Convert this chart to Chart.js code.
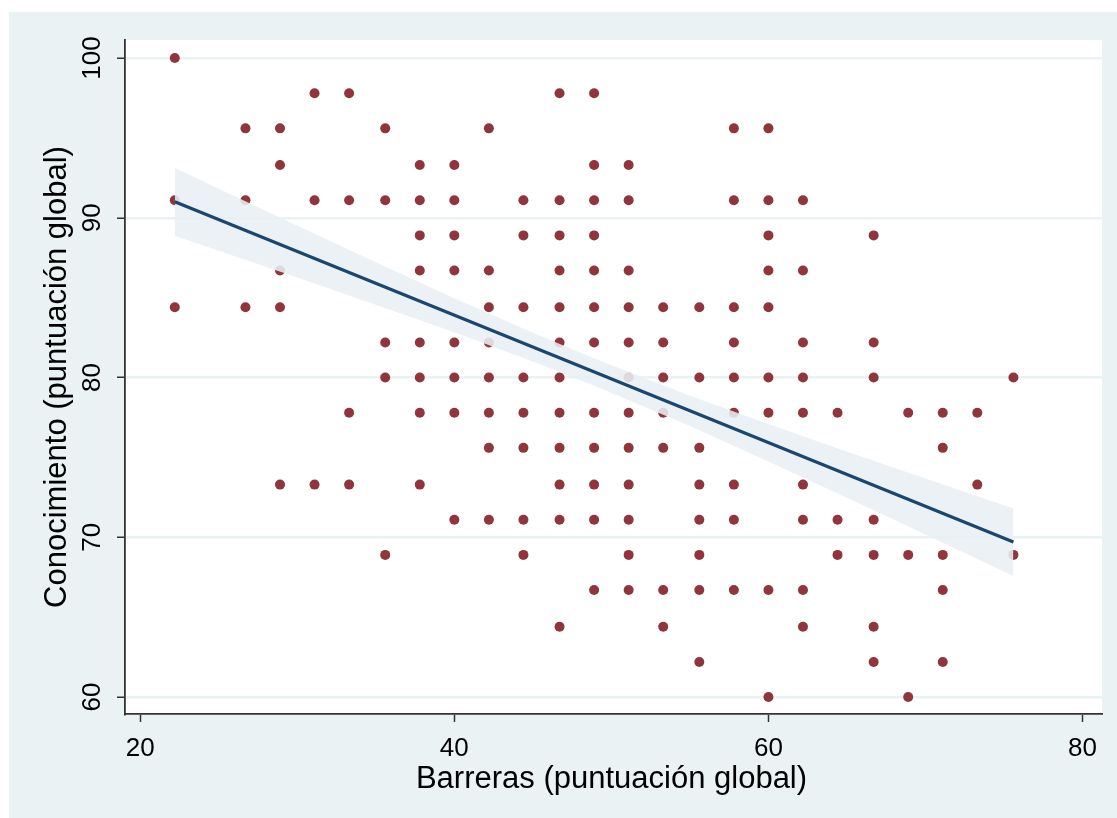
<!DOCTYPE html>
<html lang="es">
<head>
<meta charset="utf-8">
<title>Conocimiento vs Barreras</title>
<script src="https://cdn.jsdelivr.net/npm/chart.js@4.4.1/dist/chart.umd.min.js"></script>
<style>
  html, body { margin: 0; padding: 0; background: #ffffff; }
  #wrap { width: 1117px; height: 818px; }
</style>
</head>
<body>
<div id="wrap"><canvas id="chart" width="1117" height="818"></canvas></div>
<script>
// Barreras score levels (x) and the Conocimiento scores seen at each level
const barrerasLevels = [22.2, 26.7, 28.9, 31.1, 33.3, 35.6, 37.8, 40, 42.2, 44.4, 46.7, 48.9,
  51.1, 53.3, 55.6, 57.8, 60, 62.2, 64.4, 66.7, 68.9, 71.1, 73.3, 75.6];
const conocimientoByLevel = [
  [100, 91.1, 84.4],
  [95.6, 91.1, 84.4],
  [95.6, 93.3, 86.7, 84.4, 73.3],
  [97.8, 91.1, 73.3],
  [97.8, 91.1, 77.8, 73.3],
  [95.6, 91.1, 82.2, 80, 68.9],
  [93.3, 91.1, 88.9, 86.7, 82.2, 80, 77.8, 73.3],
  [93.3, 91.1, 88.9, 86.7, 82.2, 80, 77.8, 71.1],
  [95.6, 86.7, 84.4, 82.2, 80, 77.8, 75.6, 71.1],
  [91.1, 88.9, 84.4, 80, 77.8, 75.6, 71.1, 68.9],
  [97.8, 91.1, 88.9, 86.7, 84.4, 82.2, 80, 77.8, 75.6, 73.3, 71.1, 64.4],
  [97.8, 93.3, 91.1, 88.9, 86.7, 84.4, 82.2, 77.8, 75.6, 73.3, 71.1, 66.7],
  [93.3, 91.1, 86.7, 84.4, 82.2, 80, 77.8, 75.6, 73.3, 71.1, 68.9, 66.7],
  [84.4, 82.2, 80, 77.8, 75.6, 66.7, 64.4],
  [84.4, 80, 75.6, 73.3, 71.1, 68.9, 66.7, 62.2],
  [95.6, 91.1, 84.4, 82.2, 80, 77.8, 73.3, 71.1, 66.7],
  [95.6, 91.1, 88.9, 86.7, 84.4, 80, 77.8, 66.7, 60],
  [91.1, 86.7, 82.2, 80, 77.8, 73.3, 71.1, 66.7, 64.4],
  [77.8, 71.1, 68.9],
  [88.9, 82.2, 80, 71.1, 68.9, 64.4, 62.2],
  [77.8, 68.9, 60],
  [77.8, 75.6, 68.9, 66.7, 62.2],
  [77.8, 73.3],
  [80, 68.9]
];

// fitted line and its 95% confidence band
const fitX = [22.2, 75.6];
const fitY = [91.0, 69.7];
const bandX = [22.2, 25, 30, 35, 40, 45, 49, 55, 60, 65, 70, 75.6];
const bandUpper = [93.13, 91.82, 89.51, 87.22, 84.97, 82.80, 81.16, 78.86, 77.09, 75.36, 73.68, 71.80];
const bandLower = [88.87, 87.94, 86.27, 84.56, 82.83, 81.00, 79.46, 76.96, 74.75, 72.48, 70.18, 67.58];

const xTicks = [20, 40, 60, 80];
const yTicks = [60, 70, 80, 90, 100];

const points = [];
barrerasLevels.forEach((x, i) => {
  conocimientoByLevel[i].forEach(y => points.push({ x, y }));
});
const fitPoints = fitX.map((x, i) => ({ x, y: fitY[i] }));
const upperPoints = bandX.map((x, i) => ({ x, y: bandUpper[i] }));
const lowerPoints = bandX.map((x, i) => ({ x, y: bandLower[i] }));

const FONT = '"Liberation Sans", Arial, Helvetica, sans-serif';

const stataFrame = {
  id: "stataFrame",
  beforeDraw(chart) {
    const { ctx, chartArea: a } = chart;
    ctx.save();
    ctx.fillStyle = "#ffffff";
    ctx.fillRect(0, 0, chart.width, chart.height);
    ctx.fillStyle = "#eaf2f3";
    ctx.fillRect(9, 12, chart.width - 9, chart.height - 12);
    ctx.fillStyle = "#ffffff";
    ctx.fillRect(a.left, a.top, a.right - a.left, a.bottom - a.top);
    ctx.restore();
  },
  afterDraw(chart) {
    const { ctx, chartArea: a } = chart;
    const xs = chart.scales.x, ys = chart.scales.y;
    ctx.save();
    ctx.fillStyle = "#000000";
    // x tick labels
    ctx.font = "26px " + FONT;
    ctx.textAlign = "center";
    ctx.textBaseline = "alphabetic";
    xTicks.forEach(v => ctx.fillText(String(v), xs.getPixelForValue(v), 756));
    // y tick labels, turned to read upwards
    yTicks.forEach(v => {
      ctx.save();
      ctx.translate(100, ys.getPixelForValue(v));
      ctx.rotate(-Math.PI / 2);
      ctx.fillText(String(v), 0, 0);
      ctx.restore();
    });
    // axis titles
    ctx.font = "31px " + FONT;
    ctx.fillText("Barreras (puntuación global)", (a.left + a.right) / 2 - 2, 788);
    ctx.save();
    ctx.translate(66, (a.top + a.bottom) / 2);
    ctx.rotate(-Math.PI / 2);
    ctx.fillText("Conocimiento (puntuación global)", 0, 0);
    ctx.restore();
    ctx.restore();
  }
};

new Chart(document.getElementById("chart"), {
  type: "scatter",
  data: {
    datasets: [
      {
        type: "line",
        data: fitPoints,
        borderColor: "#1a476f",
        borderWidth: 3.2,
        pointRadius: 0,
        fill: false
      },
      {
        type: "line",
        data: upperPoints,
        borderWidth: 0,
        borderColor: "rgba(0,0,0,0)",
        backgroundColor: "rgba(232, 239, 244, 0.88)",
        pointRadius: 0,
        fill: "+1"
      },
      {
        type: "line",
        data: lowerPoints,
        borderWidth: 0,
        borderColor: "rgba(0,0,0,0)",
        pointRadius: 0,
        fill: false
      },
      {
        data: points,
        backgroundColor: "#90353b",
        borderWidth: 0,
        pointRadius: 5,
        pointHoverRadius: 5
      }
    ]
  },
  options: {
    responsive: false,
    animation: false,
    events: [],
    layout: { padding: { left: 0, top: 40, right: 15, bottom: 0 } },
    plugins: { legend: { display: false }, tooltip: { enabled: false } },
    scales: {
      x: {
        type: "linear",
        min: 19.03,
        max: 81.24,
        afterBuildTicks: s => { s.ticks = xTicks.map(value => ({ value })); },
        afterFit: s => { s.height = 104; },
        ticks: { display: false },
        grid: { drawOnChartArea: false, tickLength: 8, tickColor: "#333333", tickWidth: 1.5 },
        border: { color: "#333333", width: 1.8 }
      },
      y: {
        type: "linear",
        min: 58.94,
        max: 101.13,
        afterBuildTicks: s => { s.ticks = yTicks.map(value => ({ value })); },
        afterFit: s => { s.width = 125; },
        ticks: { display: false },
        grid: { color: "#eaf2f3", lineWidth: 2.5, tickLength: 8, tickColor: "#333333", tickWidth: 1.5 },
        border: { color: "#333333", width: 1.8 }
      }
    }
  },
  plugins: [stataFrame]
});
</script>
</body>
</html>
